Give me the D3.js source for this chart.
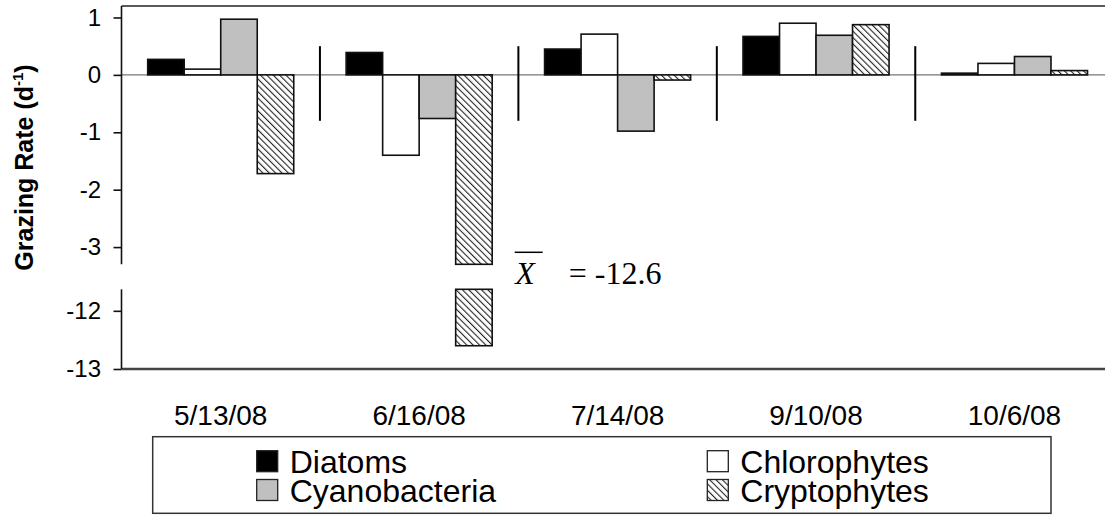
<!DOCTYPE html>
<html>
<head>
<meta charset="utf-8">
<script src="https://cdn.jsdelivr.net/npm/d3@7"></script>
<style>
  html, body { margin: 0; padding: 0; background: #fff; }
  svg { display: block; }
</style>
</head>
<body>
<svg id="chart" width="1105" height="516"></svg>
<script>
// Sampling dates and phytoplankton groups
const categories = ["5/13/08", "6/16/08", "7/14/08", "9/10/08", "10/6/08"];
const seriesNames = ["Diatoms", "Chlorophytes", "Cyanobacteria", "Cryptophytes"];

// Grazing rates (d^-1) per group, one value per date
const diatoms       = [0.27, 0.39, 0.45, 0.67, 0.03];
const chlorophytes  = [0.10, -1.40, 0.71, 0.90, 0.20];
const cyanobacteria = [0.97, -0.76, -0.98, 0.69, 0.32];
const cryptophytes  = [-1.72, -12.6, -0.09, 0.875, 0.075];

// Broken value axis: an upper segment and a lower segment
const upperDomain = [-3.3, 1.2];
const lowerDomain = [-13, -11.63];
const upperTicks = [1, 0, -1, -2, -3];
const lowerTicks = [-12, -13];

// Extent of the date separator marks (data units on the upper segment)
const separatorSpan = [0.5, -0.8];

const seriesValues = [diatoms, chlorophytes, cyanobacteria, cryptophytes];

const svg = d3.select("#chart");
const W = 1105;

const plotLeft = 121.5, plotRight = 1113.7;
const upperTop = 6, upperBottom = 264.3;
const lowerTop = 289.3, lowerBottom = 369;

const x = d3.scaleBand().domain(categories)
  .range([plotLeft, plotRight]).paddingInner(0.264).paddingOuter(0.132);
const xs = d3.scaleBand().domain(seriesNames).range([0, x.bandwidth()]);
const yU = d3.scaleLinear().domain(upperDomain).range([upperBottom, upperTop]);
const yL = d3.scaleLinear().domain(lowerDomain).range([lowerBottom, lowerTop]);

// Hyphen-minus number labels
const fmt = v => String(v);

// Back-slash hatch pattern for cryptophytes
const defs = svg.append("defs");
const pat = defs.append("pattern").attr("id", "hatch")
  .attr("patternUnits", "userSpaceOnUse").attr("width", 4.5).attr("height", 4.5)
  .attr("patternTransform", "rotate(-45)");
pat.append("rect").attr("width", 4.5).attr("height", 4.5).attr("fill", "#fff");
pat.append("line").attr("x1", 0).attr("y1", 0).attr("x2", 0).attr("y2", 4.5)
  .attr("stroke", "#222").attr("stroke-width", 2.2);

const fills = {
  "Diatoms": "#000",
  "Chlorophytes": "#fff",
  "Cyanobacteria": "#c0c0c0",
  "Cryptophytes": "url(#hatch)"
};

svg.append("rect").attr("width", W).attr("height", 516).attr("fill", "#fff");

// Frame lines
svg.append("line").attr("x1", plotLeft).attr("x2", W).attr("y1", upperTop).attr("y2", upperTop)
  .attr("stroke", "#222").attr("stroke-width", 1.6);
svg.append("line").attr("x1", plotLeft).attr("x2", W).attr("y1", lowerBottom).attr("y2", lowerBottom)
  .attr("stroke", "#444").attr("stroke-width", 2.5);

// Zero line
svg.append("line").attr("x1", plotLeft).attr("x2", W).attr("y1", yU(0)).attr("y2", yU(0))
  .attr("stroke", "#777").attr("stroke-width", 1.2);

// Bars
const bars = [];
seriesNames.forEach((s, si) => {
  seriesValues[si].forEach((v, ci) => {
    bars.push({ series: s, cat: categories[ci], value: v });
  });
});

const barG = svg.append("g");
bars.forEach(d => {
  const bx = x(d.cat) + xs(d.series);
  const bw = xs.bandwidth();
  const pieces = [];
  if (d.value >= upperDomain[0]) {
    pieces.push([yU(Math.max(d.value, 0)), yU(Math.min(d.value, 0))]);
  } else {
    pieces.push([yU(0), yU(upperDomain[0])]);
    pieces.push([yL(lowerDomain[1]), yL(d.value)]);
  }
  pieces.forEach(p => {
    barG.append("rect")
      .attr("x", bx).attr("y", p[0])
      .attr("width", bw).attr("height", Math.max(p[1] - p[0], 0.5))
      .attr("fill", fills[d.series])
      .attr("stroke", "#111").attr("stroke-width", 1.6);
  });
});

// Date separators
const step = x.step();
categories.slice(0, -1).forEach(c => {
  const sx = x(c) + x.bandwidth() + (step - x.bandwidth()) / 2;
  svg.append("line").attr("x1", sx).attr("x2", sx)
    .attr("y1", yU(separatorSpan[0])).attr("y2", yU(separatorSpan[1]))
    .attr("stroke", "#000").attr("stroke-width", 2);
});

// Axis segments
svg.append("line").attr("x1", plotLeft).attr("x2", plotLeft).attr("y1", upperTop).attr("y2", upperBottom)
  .attr("stroke", "#111").attr("stroke-width", 1.6);
svg.append("line").attr("x1", plotLeft).attr("x2", plotLeft).attr("y1", lowerTop).attr("y2", lowerBottom)
  .attr("stroke", "#111").attr("stroke-width", 1.6);

function styleAxis(g) {
  g.select(".domain").remove();
  g.selectAll(".tick line").attr("stroke", "#111").attr("stroke-width", 1.6);
  g.selectAll(".tick text")
    .attr("font-family", "'Liberation Sans', Arial, sans-serif")
    .attr("font-size", 24).attr("fill", "#000").attr("x", -20.5);
}
svg.append("g").attr("transform", `translate(${plotLeft},0)`)
  .call(d3.axisLeft(yU).tickValues(upperTicks).tickSize(8).tickFormat(fmt))
  .call(styleAxis);
svg.append("g").attr("transform", `translate(${plotLeft},0)`)
  .call(d3.axisLeft(yL).tickValues(lowerTicks).tickSize(8).tickFormat(fmt))
  .call(styleAxis);

// Y axis title
const title = svg.append("text")
  .attr("transform", `translate(33,${(upperTop + lowerBottom) / 2 - 20}) rotate(-90)`)
  .attr("text-anchor", "middle")
  .attr("font-family", "'Liberation Sans', Arial, sans-serif")
  .attr("font-weight", "bold").attr("font-size", 25).attr("fill", "#000");
title.append("tspan").text("Grazing Rate (d");
title.append("tspan").attr("font-size", 15).attr("dy", -10).text("-1");
title.append("tspan").attr("dy", 10).text(")");

// Category labels
svg.append("g").selectAll("text").data(categories).join("text")
  .attr("x", d => x(d) + x.bandwidth() / 2).attr("y", 425)
  .attr("text-anchor", "middle")
  .attr("font-family", "'Liberation Sans', Arial, sans-serif")
  .attr("font-size", 28).attr("fill", "#000")
  .text(d => d);

// Mean annotation for the off-scale cryptophyte bar
const brokenX = x(categories[1]) + xs("Cryptophytes") + xs.bandwidth();
const meanBase = 284;
const serif = "'Liberation Serif', 'Times New Roman', serif";
svg.append("text").attr("x", brokenX + 23).attr("y", meanBase)
  .attr("font-family", serif).attr("font-style", "italic").attr("font-size", 32)
  .attr("fill", "#000").text("X");
svg.append("line").attr("x1", brokenX + 22.5).attr("x2", brokenX + 50.5)
  .attr("y1", 252.3).attr("y2", 252.3).attr("stroke", "#000").attr("stroke-width", 1.5);
svg.append("text").attr("x", brokenX + 76.5).attr("y", meanBase)
  .attr("font-family", serif).attr("font-size", 32).attr("fill", "#000")
  .text("= " + cryptophytes[1].toFixed(1));

// Legend
const legend = svg.append("g");
legend.append("rect").attr("x", 152.7).attr("y", 436.7).attr("width", 1051 - 152.7).attr("height", 513.3 - 436.7)
  .attr("fill", "#fff").attr("stroke", "#333").attr("stroke-width", 1.5);
const legendPos = {
  "Diatoms": [256.7, 450.7],
  "Chlorophytes": [707.3, 450.7],
  "Cyanobacteria": [256.7, 479.5],
  "Cryptophytes": [707.3, 479.5]
};
seriesNames.forEach(s => {
  const [lx, ly] = legendPos[s];
  legend.append("rect").attr("x", lx).attr("y", ly).attr("width", 21).attr("height", 21)
    .attr("fill", fills[s]).attr("stroke", "#222").attr("stroke-width", 1.3);
  legend.append("text").attr("x", lx + 33).attr("y", ly + 22.6)
    .attr("font-family", "'Liberation Sans', Arial, sans-serif")
    .attr("font-size", 32).attr("fill", "#000").text(s);
});
</script>
</body>
</html>
